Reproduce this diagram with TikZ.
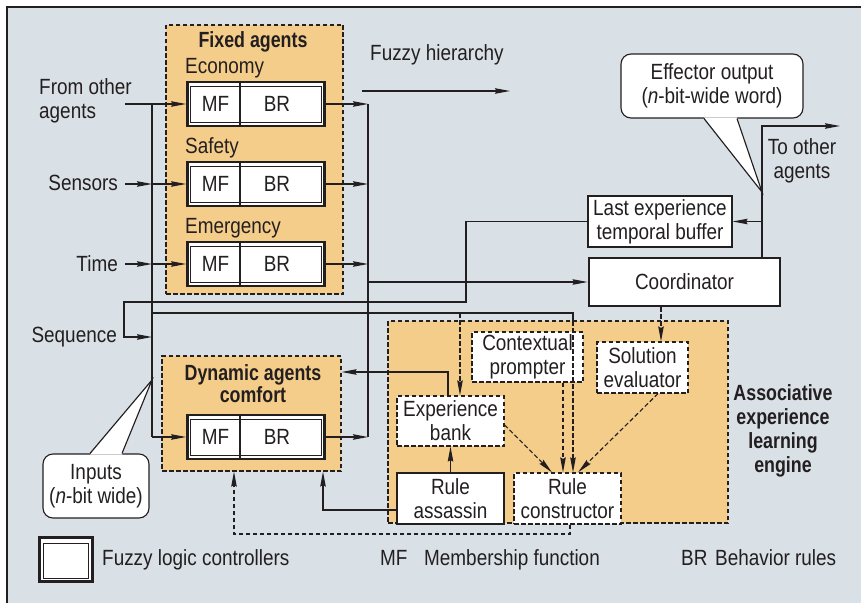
\documentclass[tikz,border=0pt]{standalone}
\usepackage{fontspec}
\setmainfont{Liberation Sans}[FakeStretch=0.86, BoldFeatures={FakeStretch=0.81}]
\usetikzlibrary{arrows.meta,calc}
\definecolor{bg}{HTML}{D9E0E6}
\definecolor{org}{HTML}{F5CD8B}
\definecolor{ink}{HTML}{231F20}
\newcommand\myflc[2]{%
  \node[flc] (#1) at (#2) {};
  \draw[ln] ([shift={(4,6)}]#1.north west) rectangle ([shift={(-4.5,-4.5)}]#1.south east);
  \draw[draw=ink,line width=2.8pt] ([xshift=-16]#1.north) -- ([xshift=-16]#1.south);
  \node (#1MF) at ([xshift=-40.5]#1.center) {MF};
  \node (#1BR) at ([xshift=21]#1.center) {BR};
}
\begin{document}
\begin{tikzpicture}[x=1pt,y=-1pt,
  every node/.style={font=\fontsize{22}{24}\selectfont, text=ink, inner sep=0pt, align=center},
  ln/.style={draw=ink, line width=1.15pt},
  arr/.style={ln, -{Stealth[length=15pt,width=5.5pt,inset=1.5pt]}},
  dsh/.style={dash pattern=on 4.5pt off 2.5pt},
  agentbox/.style={draw=ink, dsh, fill=org, line width=1.15pt},
  flc/.style={draw=ink, fill=white, line width=2.8pt, minimum width=137pt, minimum height=44pt},
  wbox/.style={draw=ink, fill=white, line width=1.15pt},
  dbox/.style={wbox, dsh},
  ttl/.style={font=\fontsize{22}{24}\selectfont\bfseries},
  callout/.style={wbox, rounded corners=10pt}
]
\useasboundingbox (0,0) rectangle (861,602);
% frame
\fill[bg] (7,7) rectangle (880,620);
\draw[ink,line width=1.2pt] (7,620) -- (7,7) -- (880,7);

% agent boxes
\node[agentbox, minimum width=177pt, minimum height=269pt] (fixed) at (254.5,159.5) {};
\node[ttl, anchor=base] (fixedT) at (253,48) {Fixed agents};
\node[anchor=base west] (ecoL) at (185,73) {Economy};
\node[anchor=base west] (safL) at (185,153) {Safety};
\node[anchor=base west] (emgL) at (185,233) {Emergency};
\myflc{eco}{256,104}
\myflc{saf}{256,184}
\myflc{emg}{256,264}

\node[agentbox, minimum width=179pt, minimum height=115pt] (dynbox) at (251.5,413.5) {};
\node[ttl, anchor=north, font=\fontsize{22}{22}\selectfont\bfseries] (dynT) at (253,364) {Dynamic agents\\comfort};
\myflc{dyn}{256,437}

% engine
\node[agentbox, minimum width=340pt, minimum height=202pt] (eng) at (558,422) {};
\node[ttl, anchor=north] (engT) at (783,384) {Associative\\experience\\learning\\engine};
\node[dbox, minimum width=111pt, minimum height=50pt] (cp) at (527.5,357) {Contextual\\prompter};
\node[dbox, minimum width=91pt, minimum height=51pt] (se) at (642.5,367.5) {Solution\\evaluator};
\node[dbox, minimum width=107pt, minimum height=50pt] (eb) at (450.5,421) {Experience\\bank};
\node[wbox, minimum width=107pt, minimum height=51pt] (ra) at (450.5,498.5) {Rule\\assassin};
\node[dbox, minimum width=107pt, minimum height=51pt] (rc) at (567.5,498.5) {Rule\\constructor};

% coordinator and buffer
\node[draw=ink, fill=white, line width=2.8pt, minimum width=191pt, minimum height=48pt] (coord) at (684.5,282) {Coordinator};
\node[wbox, minimum width=144pt, minimum height=51pt] (buf) at (660,221.5) {Last experience\\temporal buffer};

% texts
\node[anchor=base west] (fuzzyT) at (370,60) {Fuzzy hierarchy};
\node[anchor=north west, align=left] (fromT) at (39,78) {From other\\agents};
\node[anchor=base east] (sensT) at (118,190) {Sensors};
\node[anchor=base east] (timeT) at (118,271) {Time};
\node[anchor=base east] (seqT) at (117,342) {Sequence};
\node (toT) at (802,161) {To other\\agents};

% callouts
\node[callout, minimum width=182pt, minimum height=64pt] (eff) at (712,86) {Effector output\\(\textit{n}-bit-wide word)};
\coordinate (effTip) at (762,192);
\fill[white] ([shift={(-8,-1.3)}]eff.south) -- (effTip) -- ([shift={(25,-1.3)}]eff.south) -- cycle;
\draw[ln, line join=miter] ([xshift=-8]eff.south) -- (effTip) -- ([xshift=25]eff.south);

\node[callout, minimum width=106pt, minimum height=64pt] (inp) at (96,486) {Inputs\\(\textit{n}-bit wide)};
\coordinate (inpTip) at (152,380);
\fill[white] ([shift={(-6,1.3)}]inp.north) -- (inpTip) -- ([shift={(26,1.3)}]inp.north) -- cycle;
\draw[ln, line join=miter] ([xshift=-6]inp.north) -- (inpTip) -- ([xshift=26]inp.north);

% legend
\node[flc, minimum width=53pt, minimum height=44pt] (leg) at (66,559.5) {};
\draw[ln] ([shift={(5.5,7)}]leg.north west) rectangle ([shift={(-5.5,-4.5)}]leg.south east);
\node[anchor=base west] (legT) at (102,565) {Fuzzy logic controllers};
\node[anchor=base west] (mfT) at (380,565) {MF};
\node[anchor=base west] (mfD) at (424,565) {Membership function};
\node[anchor=base west] (brT) at (681,565) {BR};
\node[anchor=base west] (brD) at (715,565) {Behavior rules};

% ---------- connectors ----------
\coordinate (lbx) at (152,0);
\coordinate (rbx) at (368,0);
% inputs
\coordinate (fromS) at (125,104);
\draw[arr] (fromS) -- (eco.west);
\draw[ln] (eco.west -| lbx) -- (dyn.west -| lbx);
\draw[arr] (dyn.west -| lbx) -- (dyn.west);
\coordinate (sensS) at (125,184);
\draw[arr] (sensS) -- (saf.west -| lbx);
\draw[arr] (saf.west -| lbx) -- (saf.west);
\coordinate (timeS) at (125,264);
\draw[arr] (timeS) -- (emg.west -| lbx);
\draw[arr] (emg.west -| lbx) -- (emg.west);
% sequence loop
\coordinate (seqA) at (466,302);
\coordinate (seqB) at (124,302);
\coordinate (seqC) at (124,337);
\coordinate (seqD) at (152,337);
\draw[arr] (buf.west) -| (seqA) -- (seqB) -- (seqC) -- (seqD);
% bus to engine
\coordinate (busA) at (152,313);
\coordinate (busE) at (460,313);
\coordinate (busB) at (573,313);
\coordinate (busC) at (573,321);
\draw[ln] (busA) -- (busB) -- (busC);
\draw[arr,dsh] (busC) -- (rc.north -| busC);
\draw[arr,dsh] (busE) -- (eb.north -| busE);
% outputs
\draw[arr] (eco.east) -- (eco.east -| rbx);
\draw[arr] (saf.east) -- (saf.east -| rbx);
\draw[arr] (emg.east) -- (emg.east -| rbx);
\draw[arr] (dyn.east) -- (dyn.east -| rbx);
\draw[ln] (eco.east -| rbx) -- (dyn.east -| rbx);
\draw[arr] (coord.west -| rbx) -- (coord.west);
% fuzzy hierarchy
\coordinate (fhA) at (362,91);
\coordinate (fhB) at (510,91);
\draw[arr] (fhA) -- (fhB);
% coordinator output
\coordinate (outX) at (762,126);
\coordinate (outE) at (840,126);
\draw[arr] (coord.north -| outX) -- (outX) -- (outE);
\draw[arr] (buf.east -| outX) -- (buf.east);
% coordinator -> solution evaluator
\coordinate (seX) at (661,0);
\draw[arr,dsh] (coord.south -| seX) -- (se.north -| seX);
% engine internals
\coordinate (cpX) at (563,0);
\draw[arr,dsh] (cp.south -| cpX) -- (rc.north -| cpX);
\draw[arr,dsh] ([shift={(0,4)}]eb.east) -- ([xshift=-15.5]rc.north);
\draw[arr,dsh] ([xshift=15.5]se.south) -- ([xshift=10.5]rc.north);
\draw[arr] (ra.north) -- (eb.south);
% feedback to dynamic agents
\coordinate (ebX) at (448,372);
\draw[arr] (eb.north -| ebX) -- (ebX) -- (dynbox.east |- ebX);
\coordinate (raX) at (323,510);
\draw[arr] (ra.west |- raX) -- (raX) -- (dynbox.south -| raX);
\coordinate (rcA) at (570,534);
\coordinate (rcB) at (234,534);
\draw[arr,dsh] (rc.south -| rcA) -- (rcA) -- (rcB) -- (dynbox.south -| rcB);
\end{tikzpicture}
\end{document}
